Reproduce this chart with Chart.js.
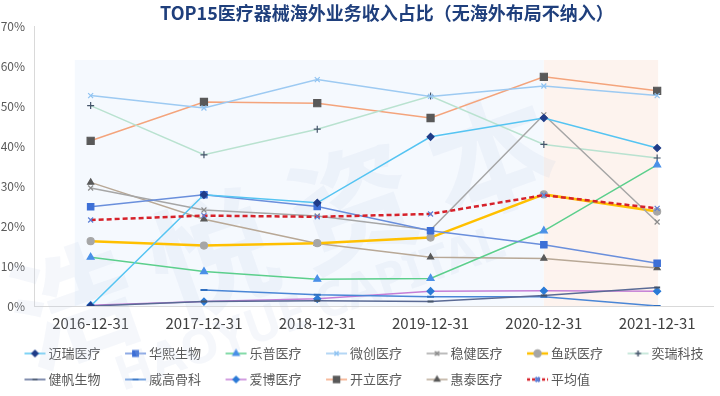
<!DOCTYPE html>
<html>
<head>
<meta charset="utf-8">
<script src="https://cdn.jsdelivr.net/npm/chart.js@4.4.0/dist/chart.umd.min.js"></script>
<style>
  html, body { margin: 0; padding: 0; background: #fff; overflow: hidden; }
  #wrap { width: 720px; height: 396px; }
</style>
</head>
<body>
<div id="wrap"><canvas id="chart" width="720" height="396"></canvas></div>
<script>
const titleText = "TOP15医疗器械海外业务收入占比（无海外布局不纳入）";
const categories = ["2016-12-31", "2017-12-31", "2018-12-31", "2019-12-31", "2020-12-31", "2021-12-31"];
const yTickLabels = ["0%", "10%", "20%", "30%", "40%", "50%", "60%", "70%"];
const seriesNames = ["迈瑞医疗", "华熙生物", "乐普医疗", "微创医疗", "稳健医疗", "鱼跃医疗", "奕瑞科技",
  "健帆生物", "威高骨科", "爱博医疗", "开立医疗", "惠泰医疗", "平均值"];

// 海外收入占比 (%)
const mairui = [0, 27.8, 25.8, 42.3, 47.0, 39.5];
const huaxi = [24.8, 27.8, 24.9, 18.8, 15.3, 10.7];
const lepu = [12.2, 8.6, 6.7, 6.9, 18.8, 35.3];
const weichuang = [52.6, 49.5, 56.6, 52.4, 55.0, 52.6];
const wenjian = [29.5, 24.0, 22.5, 19.0, 47.8, 21.0];
const yuyue = [16.2, 15.1, 15.7, 17.1, 27.9, 23.6];
const yirui = [50.1, 37.8, 44.2, 52.5, 40.4, 37.0];
const jianfan = [0, 1.1, 1.3, 1.1, 2.6, 4.6];
const weigao = [null, 4.0, 2.8, 2.3, 2.3, 0];
const aibo = [0.2, 1.1, 1.8, 3.7, 3.8, 3.7];
const kaili = [41.3, 51.0, 50.7, 47.0, 57.3, 53.8];
const huitai = [30.9, 21.7, 15.6, 12.2, 11.9, 9.5];
const average = [21.5, 22.6, 22.3, 23.0, 27.7, 24.4];

const seriesValues = [mairui, huaxi, lepu, weichuang, wenjian, yuyue, yirui,
  jianfan, weigao, aibo, kaili, huitai, average];

// 线条与标记样式
const seriesStyles = [
  { line: "#55c4f2", mark: "#1f3c88", shape: "rectRot", r: 3.5, w: 1.5 },
  { line: "#6a8fdc", mark: "#3d6fd6", shape: "rect", r: 4.5, w: 1.5 },
  { line: "#5ccf8c", mark: "#4a90e8", shape: "triangle", r: 4, w: 1.5 },
  { line: "#9dcaf2", mark: "#8fc3f2", shape: "crossRot", r: 3.5, w: 1.5 },
  { line: "#a6a6a6", mark: "#8c8c8c", shape: "crossRot", r: 3.5, w: 1.5 },
  { line: "#ffc000", mark: "#a6a6a6", shape: "circle", r: 3.5, w: 2.5 },
  { line: "#b9e2d0", mark: "#44546a", shape: "cross", r: 3.5, w: 1.5 },
  { line: "#5a6a95", mark: "#44546a", shape: "line", r: 3, w: 1.5 },
  { line: "#4a86d6", mark: "#2f6fc0", shape: "line", r: 3.5, w: 1.5 },
  { line: "#c47fd6", mark: "#2a7ad6", shape: "rectRot", r: 3.5, w: 1.5 },
  { line: "#f4a47c", mark: "#595959", shape: "rect", r: 5, w: 1.5 },
  { line: "#b8a896", mark: "#595959", shape: "triangle", r: 3.5, w: 1.5 },
  { line: "#d6212a", mark: "#5b7fd6", shape: "crossRot", r: 3.5, w: 2.5, dash: [5, 3] },
];

const fontFamily = "'Noto Sans CJK SC', 'Noto Sans', sans-serif";

function legendIcon(style) {
  const c = document.createElement("canvas");
  c.width = 38;
  c.height = 12;
  const g = c.getContext("2d");
  g.strokeStyle = style.line;
  g.lineWidth = style.w;
  if (style.dash) g.setLineDash([3, 2]);
  g.beginPath();
  g.moveTo(16, 6);
  g.lineTo(37, 6);
  g.stroke();
  g.setLineDash([]);
  g.fillStyle = style.mark;
  g.strokeStyle = style.mark;
  Chart.helpers.drawPoint(g, { pointStyle: style.shape, radius: style.r * 0.85, rotation: 0, borderWidth: 1 }, 26.5, 6);
  return c;
}

const datasets = seriesValues.map((values, i) => {
  const s = seriesStyles[i];
  return {
    label: seriesNames[i],
    data: values,
    borderColor: s.line,
    borderWidth: s.w,
    borderDash: s.dash || [],
    pointStyle: s.shape,
    pointRadius: s.r,
    pointBackgroundColor: s.mark,
    pointBorderColor: s.mark,
    pointBorderWidth: s.shape === "line" ? 2 : 1.2,
    tension: 0,
    fill: false,
    order: i === seriesValues.length - 1 ? -1 : 0,
  };
});

const bandPlugin = {
  id: "bands",
  beforeDraw(chart) {
    const { ctx, scales: { x, y } } = chart;
    const step = x.getPixelForValue(1) - x.getPixelForValue(0);
    const top = y.getPixelForValue(61.5);
    const bottom = y.getPixelForValue(0);
    const a = x.getPixelForValue(0) - step * 0.14;
    const b = x.getPixelForValue(4);
    const c = x.getPixelForValue(5) + 1;
    ctx.save();
    ctx.fillStyle = "#f5f9fe";
    ctx.fillRect(a, top, b - a, bottom - top);
    ctx.fillStyle = "#fdf3ee";
    ctx.fillRect(b, top, c - b, bottom - top);
    ctx.restore();
  },
  beforeDatasetsDraw(chart) {
    // 水印
    const { ctx } = chart;
    ctx.save();
    ctx.fillStyle = "rgba(195, 205, 232, 0.16)";
    ctx.translate(14, 325);
    ctx.rotate(-0.34);
    ctx.font = "bold 125px " + fontFamily;
    ["浩", "悦", "资", "本"].forEach((ch, i) => ctx.fillText(ch, i * 148, 0));
    ctx.font = "bold 48px 'Noto Sans', sans-serif";
    ctx.fillText("HAOYUE CAPITAL", 80, 85);
    ctx.restore();
  },
  afterDraw(chart) {
    const { ctx, chartArea } = chart;
    ctx.save();
    ctx.font = "bold 18px " + fontFamily;
    ctx.fillStyle = "#1f3f7c";
    ctx.textAlign = "center";
    ctx.textBaseline = "middle";
    ctx.fillText(titleText, (chartArea.left + chartArea.right) / 2 + 13, 13);
    ctx.restore();
  },
};

new Chart(document.getElementById("chart"), {
  type: "line",
  data: { labels: categories, datasets: datasets },
  plugins: [bandPlugin],
  options: {
    responsive: false,
    animation: false,
    layout: { padding: { top: 26, left: 0, right: 0, bottom: 0 } },
    scales: {
      x: {
        offset: true,
        afterFit(scale) {
          scale.height = 28;
        },
        grid: { display: false, drawTicks: false },
        border: { color: "#d9d9d9" },
        ticks: { padding: 8, color: "#404040", font: { size: 15, family: fontFamily }, maxRotation: 0, autoSkip: false },
      },
      y: {
        min: 0,
        max: 70,
        afterFit(scale) {
          scale.width = 34;
        },
        grid: { display: false, drawTicks: false },
        border: { color: "#d9d9d9" },
        ticks: {
          stepSize: 10,
          padding: 9,
          color: "#595959",
          font: { size: 12, family: fontFamily },
          callback: (v, i) => yTickLabels[i],
        },
      },
    },
    plugins: {
      tooltip: { enabled: false },
      legend: {
        position: "bottom",
        align: "start",
        labels: {
          usePointStyle: true,
          pointStyleWidth: 29,
          padding: 13,
          color: "#595959",
          font: { size: 13, family: fontFamily },
          generateLabels(chart) {
            return chart.data.datasets.map((ds, i) => ({
              text: ds.label,
              fillStyle: "transparent",
              strokeStyle: "transparent",
              lineWidth: 0,
              pointStyle: legendIcon(seriesStyles[i]),
              fontColor: "#595959",
              hidden: false,
              datasetIndex: i,
            }));
          },
        },
      },
    },
  },
});
</script>
</body>
</html>
